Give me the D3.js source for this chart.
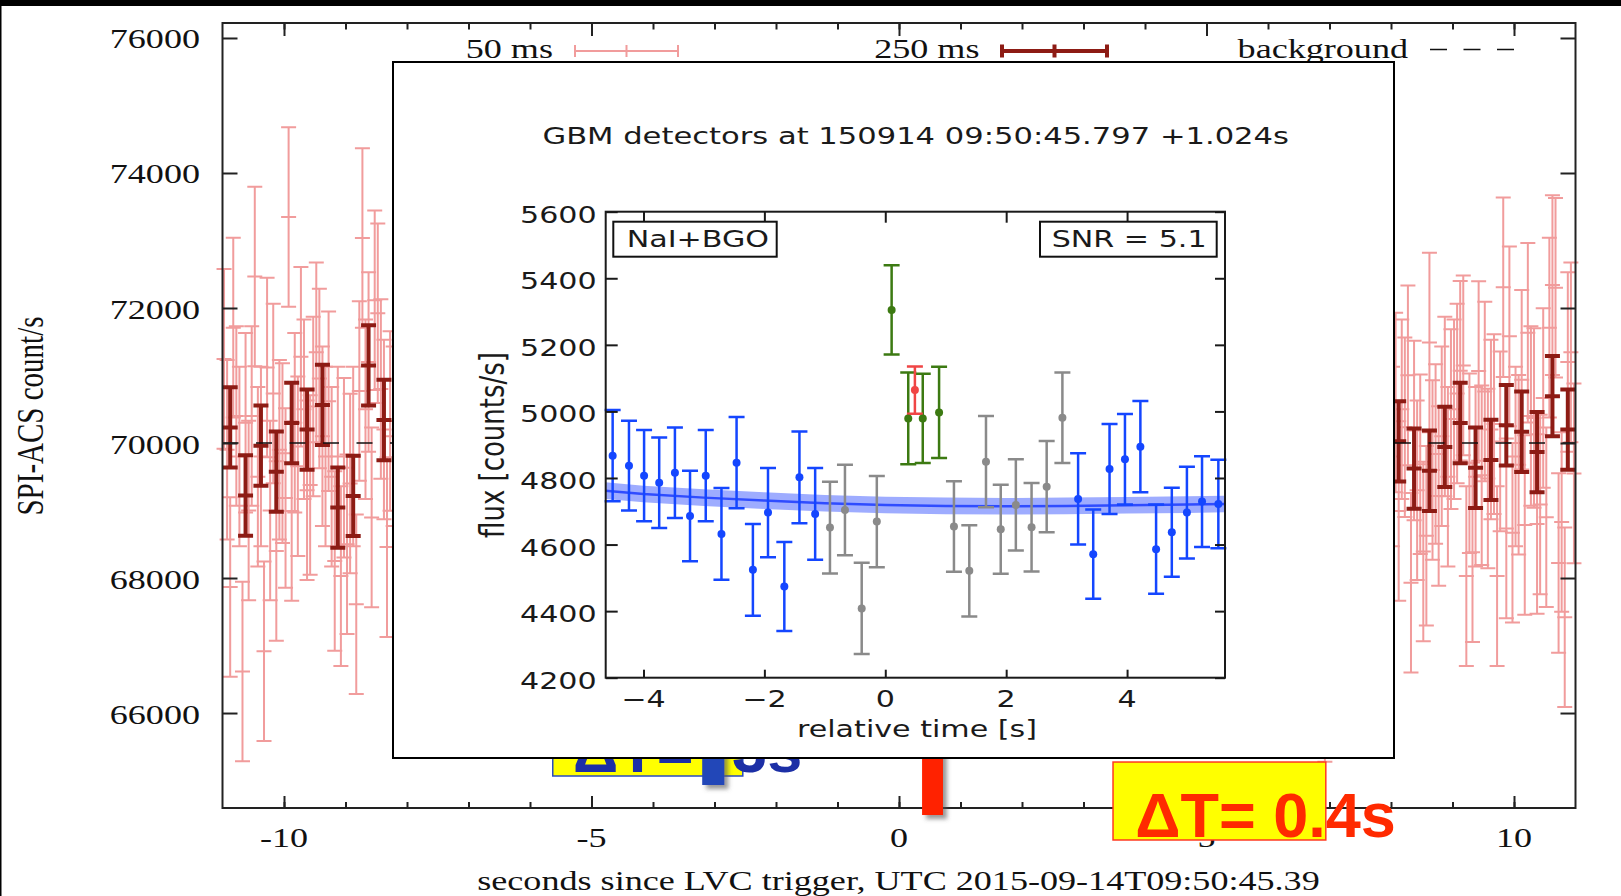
<!DOCTYPE html>
<html><head><meta charset="utf-8">
<script src="https://cdn.jsdelivr.net/npm/d3@7"></script>
<style>html,body{margin:0;padding:0;background:#fff}svg{display:block}</style>
</head><body>
<svg id="c" width="1621" height="896"></svg>
<script>
// ---------------- DATA (main SPI-ACS plot) ----------------
const mainYTicks = [66000, 68000, 70000, 72000, 74000, 76000];
const mainXTicks = [-10, -5, 0, 5, 10];
const mainXTickLabels = ["-10", "-5", "0", "5", "10"];
const mainXMinor = [-10,-9,-8,-7,-6,-5,-4,-3,-2,-1,0,1,2,3,4,5,6,7,8,9,10];
const legendLabels = ["50 ms", "250 ms", "background"];
const backgroundLevel = 70000;

// 50 ms bins (visible parts only), bin centres start + k*0.05 s
const pinkStep = 0.05;
const pinkErr = 1330;
const pinkLeftStart = -10.975;
const pinkLeft = [
  71246, 69900, 67867, 71709, 70400,
  69800, 66615, 70300, 69000, 70400,
  72467, 69500, 69800, 66916, 71118,
  69000, 70732, 68400, 69900, 69850,
  69184, 73347, 68992, 70300, 69657,
  71278, 70500, 69300, 69377, 70540,
  71343, 70957, 70100, 69800, 70620,
  69500, 68253, 69800, 68028, 69634,
  68500, 69400, 69800, 67610, 70770,
  73038, 70500, 71200, 68898, 72114,
  71921, 70800, 70200, 68458, 70326,
  70100
];
const pinkRightStart = 8.025;
const pinkRight = [
  69800, 70600, 68992, 70500, 70233,
  71002, 67931, 70186, 69300, 69686,
  68394, 68625, 71490, 69600, 69836,
  69216, 70100, 70540, 69500, 70354,
  70500, 70732, 71070, 71150, 68028,
  69700, 68381, 69500, 71066, 69523,
  70764, 69473, 70200, 70280, 68028,
  70024, 72306, 68735, 71580, 68670,
  69800, 69679, 70938, 68786, 71632,
  70400, 70370, 68799, 69088, 70668,
  68900, 71709, 72339, 72300, 68222,
  68831, 67418, 71200, 71343, 69550
];
const pinkMidT = [6.925];
const pinkMidV = [66609];

// 250 ms bins
const darkStep = 0.25;
const darkErr = 595;
const darkLeftStart = -10.875;
const darkLeft = [70231, 69222, 69961, 69576, 70296, 70199, 70564, 69043, 69216, 71150, 70341];
const darkRightStart = 8.125;
const darkRight = [70025, 69621, 69589, 69942, 70296, 69634, 69749, 70263, 70167, 69865, 70694, 70199];

// overlay annotations (data units of the main plot)
const annoText = ["\u0394T= -3s", "\u0394T= 0.4s"];
const annoTextT = [-5.30, 3.84];
const annoTextV = [65131, 64163];
const annoBoxT0 = [-5.63, 3.48];
const annoBoxT1 = [-2.54, 6.94];
const annoBoxVtop = [66300, 65274];
const annoBoxVbot = [65067, 64119];
const annoBarT = [-3.02, 0.545];
const annoBarHalf = [0.18, 0.17];
const annoBarVtop = [66600, 66600];
const annoBarVbot = [64934, 64489];
const annoColor = ["#1c2fa6", "#ff2a00"];
const annoBarColor = ["#2346b8", "#ff2200"];
const annoBorder = ["#2a4bc0", "#ff3a20"];

// ---------------- DATA (GBM inset) ----------------
const gbmTitle = "GBM detectors at 150914 09:50:45.797 +1.024s";
const gbmYTicks = [4200, 4400, 4600, 4800, 5000, 5200, 5400, 5600];
const gbmXTicks = [-4, -2, 0, 2, 4];
const gbmXTickLabels = ["\u22124", "\u22122", "0", "2", "4"];
const gbmT = [-4.51,-4.24,-3.99,-3.74,-3.48,-3.23,-2.97,-2.71,-2.46,-2.19,-1.94,-1.67,-1.42,-1.16,
  -0.915,-0.667,-0.39,-0.14, 0.105,0.38,0.62,0.89, 1.136,1.39,1.666,1.91,2.16,2.42,2.67,2.93,
  3.19,3.44,3.71,3.965,4.22,4.48,4.74,4.99,5.24,5.51];
const gbmV = [4867,4837,4807,4786,4816,4686,4807,4632,4846,4524,4696,4474,4802,4692,
  4651,4704,4408,4669, 5305,4979,4979,4997, 4654,4521,4849,4646,4719,4652,4774,4981,
  4737,4571,4827,4856,4894,4586,4637,4696,4729,4722];
const gbmErr = [137,135,137,136,136,136,137,138,137,138,134,134,138,138,
  138,136,137,137, 134,138,134,137, 136,137,137,134,137,133,137,136,
  137,134,135,136,137,134,134,138,136,133];
const gbmGroup = ["b","b","b","b","b","b","b","b","b","b","b","b","b","b",
  "g","g","g","g", "G","G","G","G", "g","g","g","g","g","g","g","g",
  "b","b","b","b","b","b","b","b","b","b"];
const gbmRedT = [0.49], gbmRedV = [5064], gbmRedErr = [71];
const bgFitT = [-4.63,-4,-3,-2,-1,0,1,2,3,4,5,5.62];
const bgFitV = [4762,4752,4741,4732,4724,4719,4716,4715,4716,4718,4720,4722];
const bgFitHalf = 25;

// ---------------- DRAWING ----------------
const W = 1621, H = 896;
const FS = "'Liberation Serif','Times New Roman',serif";
const FD = "'DejaVu Sans',sans-serif";
const FA = "'Liberation Sans',Arial,sans-serif";
const SX = 1.29, SXI = 1.31;
const svg = d3.select("#c");
svg.append("rect").attr("width", W).attr("height", H).attr("fill", "#fff");

const defs = svg.append("defs");
const f = defs.append("filter").attr("id", "shadow").attr("x", "-50%").attr("y", "-50%").attr("width", "200%").attr("height", "200%");
f.append("feDropShadow").attr("dx", 4).attr("dy", 4).attr("stdDeviation", 2).attr("flood-color", "#555").attr("flood-opacity", 0.6);

function stext(g, str, px, py, o) {
  const t = g.append("text")
    .attr("transform", `translate(${px},${py}) scale(${o.sx || 1},1)` + (o.rot ? ` rotate(${o.rot})` : ""))
    .attr("text-anchor", o.anchor || "start")
    .attr("font-family", o.font).attr("font-size", o.size)
    .attr("fill", o.fill || "#111").text(str);
  if (o.weight) t.attr("font-weight", o.weight);
  return t;
}
function errPath(xs, ys, w, center) {
  return d => {
    const cx = xs(d.t), y1 = ys(d.v - d.e), y2 = ys(d.v + d.e), yc = ys(d.v);
    let p = `M${cx},${y1}V${y2}M${cx - w},${y1}H${cx + w}M${cx - w},${y2}H${cx + w}`;
    if (center) p += `M${cx - w},${yc}H${cx + w}`;
    return p;
  };
}

const x = d3.scaleLinear().domain([-11, 11]).range([222.5, 1575.5]);
const y = d3.scaleLinear().domain([64593, 76222]).range([808, 23]);
const L = 222.5, R = 1575.5, T = 23, B = 808;

const gMain = svg.append("g");
const pinkPts = pinkLeft.map((v, k) => ({t: pinkLeftStart + k * pinkStep, v, e: pinkErr}))
  .concat(pinkRight.map((v, k) => ({t: pinkRightStart + k * pinkStep, v, e: pinkErr})))
  .concat(pinkMidT.map((t, k) => ({t, v: pinkMidV[k], e: pinkErr})));
const darkPts = darkLeft.map((v, k) => ({t: darkLeftStart + k * darkStep, v, e: darkErr}))
  .concat(darkRight.map((v, k) => ({t: darkRightStart + k * darkStep, v, e: darkErr})));

gMain.append("g").selectAll("path").data(pinkPts).join("path")
  .attr("d", errPath(x, y, 7.5, true)).attr("fill", "none")
  .attr("stroke", "#f19c9c").attr("stroke-width", 2);
gMain.append("g").selectAll("path").data(darkPts).join("path")
  .attr("d", errPath(x, y, 7.5, true)).attr("fill", "none")
  .attr("stroke", "#8d1b14").attr("stroke-width", 4);
gMain.append("line").attr("x1", x(-11)).attr("x2", x(11)).attr("y1", y(backgroundLevel)).attr("y2", y(backgroundLevel))
  .attr("stroke", "#111").attr("stroke-width", 1.6).attr("stroke-dasharray", "16,17.5");

function styleAxis(g) { g.select(".domain").remove(); g.selectAll("line").attr("stroke", "#222").attr("stroke-width", 2); g.selectAll("text").remove(); }
gMain.append("g").attr("transform", `translate(${L},0)`).call(d3.axisLeft(y).tickValues(mainYTicks).tickSize(-15)).call(styleAxis);
gMain.append("g").attr("transform", `translate(${R},0)`).call(d3.axisRight(y).tickValues(mainYTicks).tickSize(-15)).call(styleAxis);
gMain.append("g").attr("transform", `translate(0,${B})`).call(d3.axisBottom(x).tickValues(mainXMinor).tickSize(-6)).call(styleAxis);
gMain.append("g").attr("transform", `translate(0,${B})`).call(d3.axisBottom(x).tickValues(mainXTicks).tickSize(-12)).call(styleAxis);
gMain.append("g").attr("transform", `translate(0,${T})`).call(d3.axisTop(x).tickValues(mainXMinor).tickSize(-6.5)).call(styleAxis);
gMain.append("g").attr("transform", `translate(0,${T})`).call(d3.axisTop(x).tickValues(mainXTicks).tickSize(-13)).call(styleAxis);
gMain.append("rect").attr("x", L).attr("y", T).attr("width", R - L).attr("height", B - T)
  .attr("fill", "none").attr("stroke", "#222").attr("stroke-width", 2);

mainYTicks.forEach(v => stext(gMain, String(v), 200, y(v) + 10.5, {sx: SX, anchor: "end", font: FS, size: 28}));
mainXTicks.forEach((v, i) => stext(gMain, mainXTickLabels[i], x(v), 847, {sx: SX, anchor: "middle", font: FS, size: 28}));
stext(gMain, "seconds since LVC trigger, UTC 2015-09-14T09:50:45.39", 898.5, 890, {sx: SX, anchor: "middle", font: FS, size: 28});
stext(gMain, "SPI-ACS count/s", 43, 416, {sx: SX, rot: -90, anchor: "middle", font: FS, size: 29});

stext(gMain, legendLabels[0], 553, 58, {sx: SX, anchor: "end", font: FS, size: 28});
stext(gMain, legendLabels[1], 979.5, 58, {sx: SX, anchor: "end", font: FS, size: 28});
stext(gMain, legendLabels[2], 1408, 58, {sx: SX, anchor: "end", font: FS, size: 28});
gMain.append("path").attr("d", "M575,51H678M575,45V57M678,45V57M626.5,45V57").attr("stroke", "#f19c9c").attr("stroke-width", 2).attr("fill", "none");
gMain.append("path").attr("d", "M1002,51H1107M1002,44.5V57.5M1107,44.5V57.5M1054.5,44.5V57.5").attr("stroke", "#8d1b14").attr("stroke-width", 4).attr("fill", "none");
gMain.append("line").attr("x1", 1430).attr("x2", 1514).attr("y1", 49.5).attr("y2", 49.5)
  .attr("stroke", "#111").attr("stroke-width", 1.6).attr("stroke-dasharray", "17,16.5");

// annotations
const gAnno = svg.append("g");
annoText.forEach((s, i) => {
  gAnno.append("rect").attr("x", x(annoBoxT0[i])).attr("y", y(annoBoxVtop[i]))
    .attr("width", x(annoBoxT1[i]) - x(annoBoxT0[i])).attr("height", y(annoBoxVbot[i]) - y(annoBoxVtop[i]))
    .attr("fill", "#ffff00").attr("stroke", annoBorder[i]).attr("stroke-width", 1.5);
  stext(gAnno, s, x(annoTextT[i]), y(annoTextV[i]), {font: FA, size: 63, weight: "bold", fill: annoColor[i]});
  gAnno.append("rect").attr("x", x(annoBarT[i] - annoBarHalf[i])).attr("y", y(annoBarVtop[i]))
    .attr("width", x(annoBarT[i] + annoBarHalf[i]) - x(annoBarT[i] - annoBarHalf[i]))
    .attr("height", y(annoBarVbot[i]) - y(annoBarVtop[i]))
    .attr("fill", annoBarColor[i]).attr("filter", "url(#shadow)");
});

// ---------------- INSET ----------------
const gIn = svg.append("g");
gIn.append("rect").attr("x", 393).attr("y", 62).attr("width", 1001).attr("height", 696)
  .attr("fill", "#fff").attr("stroke", "#000").attr("stroke-width", 2);
const xi = d3.scaleLinear().domain([-4.625, 5.62]).range([605.7, 1225]);
const yi = d3.scaleLinear().domain([4200, 5600]).range([677.7, 211.7]);
const IL = 605.7, IR = 1225, IT = 211.7, IB = 677.7;

const band = bgFitT.map((t, k) => ({t, v: bgFitV[k]}));
gIn.append("path").datum(band)
  .attr("d", d3.area().x(d => xi(d.t)).y0(d => yi(d.v - bgFitHalf)).y1(d => yi(d.v + bgFitHalf)))
  .attr("fill", "#4f68ff").attr("fill-opacity", 0.55);
gIn.append("path").datum(band)
  .attr("d", d3.line().x(d => xi(d.t)).y(d => yi(d.v)))
  .attr("fill", "none").attr("stroke", "#2f4cff").attr("stroke-width", 2.5);

const colorOf = {b: "#1446ff", g: "#8a8a8a", G: "#3c7a12"};
const gbmPts = gbmT.map((t, k) => ({t, v: gbmV[k], e: gbmErr[k], c: colorOf[gbmGroup[k]]}));
const redPts = gbmRedT.map((t, k) => ({t, v: gbmRedV[k], e: gbmRedErr[k], c: "#f04545"}));
const allPts = gbmPts.concat(redPts);
gIn.append("g").selectAll("path").data(allPts).join("path")
  .attr("d", errPath(xi, yi, 8, false)).attr("fill", "none")
  .attr("stroke", d => d.c).attr("stroke-width", 2.5);
gIn.append("g").selectAll("circle").data(allPts).join("circle")
  .attr("cx", d => xi(d.t)).attr("cy", d => yi(d.v)).attr("r", 4).attr("fill", d => d.c);

function styleAxisI(g) { g.select(".domain").remove(); g.selectAll("line").attr("stroke", "#1a1a1a").attr("stroke-width", 2); g.selectAll("text").remove(); }
gIn.append("g").attr("transform", `translate(${IL},0)`).call(d3.axisLeft(yi).tickValues(gbmYTicks).tickSize(-12)).call(styleAxisI);
gIn.append("g").attr("transform", `translate(${IR},0)`).call(d3.axisRight(yi).tickValues(gbmYTicks).tickSize(-10)).call(styleAxisI);
gIn.append("g").attr("transform", `translate(0,${IB})`).call(d3.axisBottom(xi).tickValues(gbmXTicks).tickSize(-8)).call(styleAxisI);
gIn.append("g").attr("transform", `translate(0,${IT})`).call(d3.axisTop(xi).tickValues(gbmXTicks).tickSize(-11)).call(styleAxisI);
gIn.append("rect").attr("x", IL).attr("y", IT).attr("width", IR - IL).attr("height", IB - IT)
  .attr("fill", "none").attr("stroke", "#1a1a1a").attr("stroke-width", 2);

gbmYTicks.forEach(v => stext(gIn, String(v), 596.7, yi(v) + 11, {sx: SXI, anchor: "end", font: FD, size: 23, fill: "#1a1a1a"}));
gbmXTicks.forEach((v, i) => stext(gIn, gbmXTickLabels[i], xi(v), 707, {sx: SXI, anchor: "middle", font: FD, size: 23, fill: "#1a1a1a"}));
stext(gIn, "relative time [s]", 917, 737, {sx: SXI, anchor: "middle", font: FD, size: 23, fill: "#1a1a1a"});
stext(gIn, "flux [counts/s]", 504, 445, {sx: SXI, rot: -90, anchor: "middle", font: FD, size: 26, fill: "#1a1a1a"});
stext(gIn, gbmTitle, 915.7, 144, {sx: 1.33, anchor: "middle", font: FD, size: 23, fill: "#1a1a1a"});

gIn.append("rect").attr("x", 613.3).attr("y", 221.7).attr("width", 163.4).attr("height", 35)
  .attr("fill", "#fff").attr("stroke", "#111").attr("stroke-width", 2);
stext(gIn, "NaI+BGO", 626.7, 246.7, {sx: SXI, font: FD, size: 23, fill: "#1a1a1a"});
gIn.append("rect").attr("x", 1040).attr("y", 221.7).attr("width", 176.7).attr("height", 35)
  .attr("fill", "#fff").attr("stroke", "#111").attr("stroke-width", 2);
stext(gIn, "SNR = 5.1", 1051.7, 246.7, {sx: SXI, font: FD, size: 23, fill: "#1a1a1a"});

svg.append("rect").attr("x", 0).attr("y", 0).attr("width", W).attr("height", 6).attr("fill", "#000");
svg.append("rect").attr("x", 0).attr("y", 0).attr("width", 1.5).attr("height", H).attr("fill", "#000");
</script>
</body></html>
